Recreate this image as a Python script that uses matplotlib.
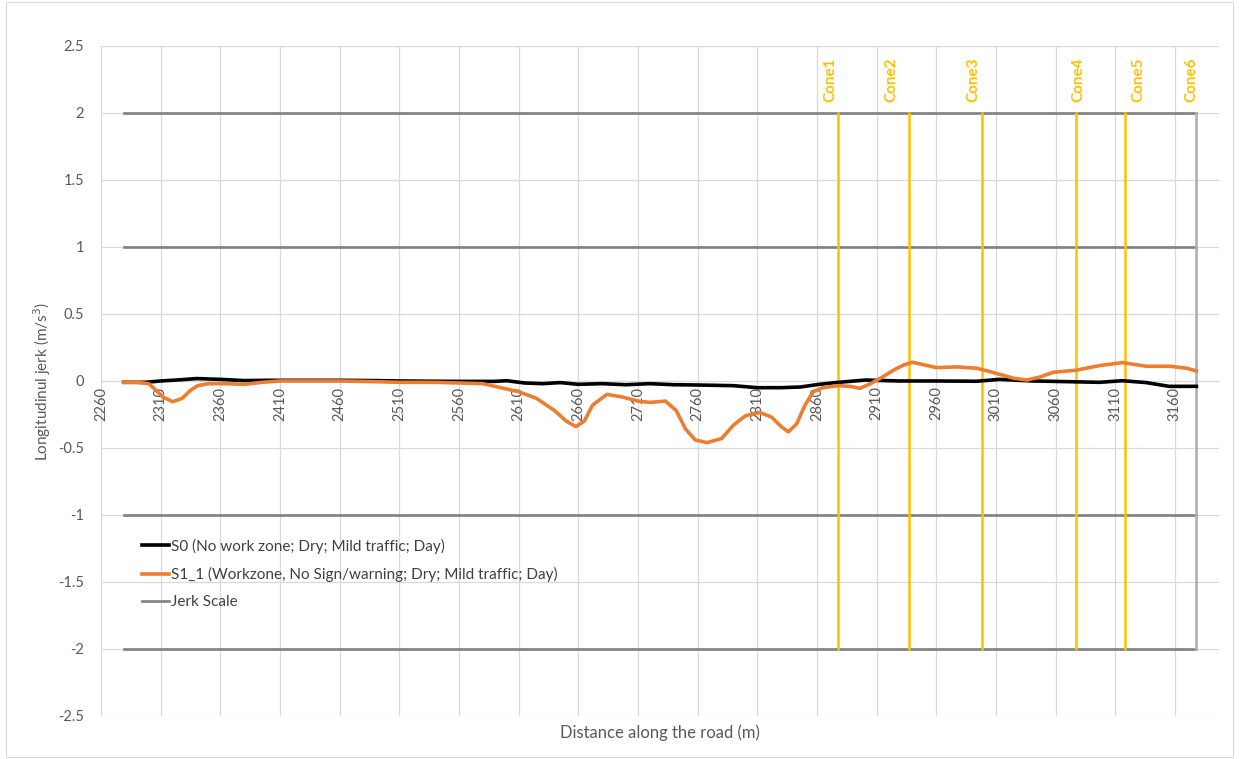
import matplotlib.pyplot as plt
from matplotlib.patches import Rectangle

plt.rcParams['font.family'] = ['Lato', 'DejaVu Sans']

# S0 baseline (black)
s0_x = [2279, 2297, 2310, 2325, 2340, 2360, 2380, 2400, 2430, 2460, 2490, 2510, 2540,
        2560, 2590, 2600, 2615, 2630, 2645, 2660, 2680, 2700, 2720, 2740, 2760, 2790,
        2810, 2830, 2846, 2862, 2878, 2901, 2929, 2960, 2994, 3013, 3041, 3070, 3097,
        3116, 3136, 3155, 3178]
s0_y = [-0.01, -0.01, 0.0, 0.008, 0.018, 0.012, 0.003, 0.005, 0.005, 0.005, 0.003, 0.0,
        -0.002, -0.003, -0.003, 0.002, -0.015, -0.02, -0.012, -0.025, -0.02, -0.028,
        -0.02, -0.028, -0.03, -0.035, -0.05, -0.05, -0.045, -0.025, -0.01, 0.007, 0.0,
        0.0, -0.002, 0.012, 0.0, -0.005, -0.01, 0.002, -0.012, -0.04, -0.04]

# S1_1 workzone (orange)
s1_x = [2279, 2290, 2300, 2305, 2312, 2320, 2328, 2335, 2341, 2350, 2365, 2380, 2395,
        2410, 2430, 2460, 2490, 2510, 2540, 2560, 2580, 2595, 2610, 2625, 2640, 2650,
        2658, 2665, 2672, 2684, 2697, 2710, 2720, 2733, 2742, 2750, 2758, 2768, 2780,
        2790, 2800, 2812, 2822, 2830, 2836, 2843, 2850, 2857, 2865, 2878, 2888, 2896,
        2905, 2915, 2925, 2933, 2940, 2950, 2960, 2977, 2994, 3005, 3015, 3025, 3036,
        3047, 3058, 3077, 3097, 3116, 3136, 3156, 3170, 3178]
s1_y = [-0.01, -0.01, -0.02, -0.06, -0.12, -0.155, -0.13, -0.07, -0.035, -0.02, -0.02,
        -0.025, -0.01, 0.0, 0.0, 0.0, -0.005, -0.01, -0.01, -0.015, -0.02, -0.05, -0.08,
        -0.13, -0.22, -0.30, -0.34, -0.30, -0.18, -0.10, -0.12, -0.15, -0.16, -0.15,
        -0.22, -0.36, -0.44, -0.46, -0.43, -0.33, -0.26, -0.235, -0.27, -0.34, -0.38,
        -0.32, -0.18, -0.08, -0.05, -0.035, -0.04, -0.055, -0.02, 0.03, 0.085, 0.12,
        0.14, 0.12, 0.10, 0.105, 0.095, 0.07, 0.045, 0.02, 0.007, 0.03, 0.065, 0.08,
        0.115, 0.137, 0.11, 0.11, 0.095, 0.075]

scale_levels = [2, 1, -1, -2]
scale_start, scale_end = 2279, 3178

cone_names = ['Cone1', 'Cone2', 'Cone3', 'Cone4', 'Cone5', 'Cone6']
cone_x = [2878, 2937.5, 2998, 3077.5, 3118.5]
cone_label_x = [2871, 2922, 2991, 3079, 3129, 3174]

x_ticks = list(range(2260, 3161, 50))
y_ticks = [-2.5, -2, -1.5, -1, -0.5, 0, 0.5, 1, 1.5, 2, 2.5]

fig = plt.figure(figsize=(12.39, 7.59), dpi=100)
ax = fig.add_axes([0.0815, 0.0567, 0.9024, 0.8827])

# jerk scale
for i, lv in enumerate(scale_levels):
    ax.plot([scale_start, scale_end], [lv, lv], color='#7f7f7f', lw=1.9,
            label='Jerk Scale' if i == 0 else None, zorder=3)
ax.plot([scale_end, scale_end], [-2, 2], color='#b0b0b0', lw=1.9, zorder=3)

for cx in cone_x:
    ax.plot([cx, cx], [-2, 2], color='#ffc000', lw=1.8, zorder=4)
for name, lx in zip(cone_names, cone_label_x):
    ax.text(lx, 2.25, name, rotation=90, ha='center', va='center',
            color='#ffc000', fontsize=11, fontweight='bold')

ax.plot(s0_x, s0_y, color='black', lw=2.6, zorder=5, solid_joinstyle='round',
        label='S0 (No work zone; Dry; Mild traffic; Day)')
ax.plot(s1_x, s1_y, color='#ed7d31', lw=2.6, zorder=6, solid_joinstyle='round',
        label='S1_1 (Workzone, No Sign/warning; Dry; Mild traffic; Day)')

ax.set_xlim(2260, 3197)
ax.set_ylim(-2.5, 2.5)
ax.set_xticks(x_ticks)
ax.set_xticklabels([str(t) for t in x_ticks])
ax.set_yticks(y_ticks)
ax.set_yticklabels(['%g' % t for t in y_ticks])
ax.tick_params(colors='#595959', labelsize=10.5, length=0)
ax.tick_params(axis='y', pad=12)
ax.tick_params(axis='x', pad=4, labelrotation=90)

for s in ['top', 'right', 'left']:
    ax.spines[s].set_visible(False)
ax.spines['bottom'].set_position(('data', 0))
ax.spines['bottom'].set_color('#d9d9d9')
ax.grid(True, color='#d9d9d9', lw=0.9)
ax.set_axisbelow(True)

ax.set_ylabel('Longitudinul jerk (m/s$^3$)', color='#595959', fontsize=11, labelpad=4)
ax.text(0.5, -0.012, 'Distance along the road (m)', transform=ax.transAxes,
        ha='center', va='top', color='#595959', fontsize=12)

handles, labels = ax.get_legend_handles_labels()
order = [1, 2, 0]
ax.legend([handles[i] for i in order], [labels[i] for i in order],
          loc='upper left', bbox_to_anchor=(0.024, 0.285), frameon=False,
          fontsize=11, handlelength=1.8, handletextpad=0.1, labelspacing=0.85,
          labelcolor='#404040')

fig.patches.append(Rectangle((0.005, 0.003), 0.99, 0.994, transform=fig.transFigure,
                             fill=False, edgecolor='#d9d9d9', lw=0.8))

fig.savefig('out.png', dpi=100)
